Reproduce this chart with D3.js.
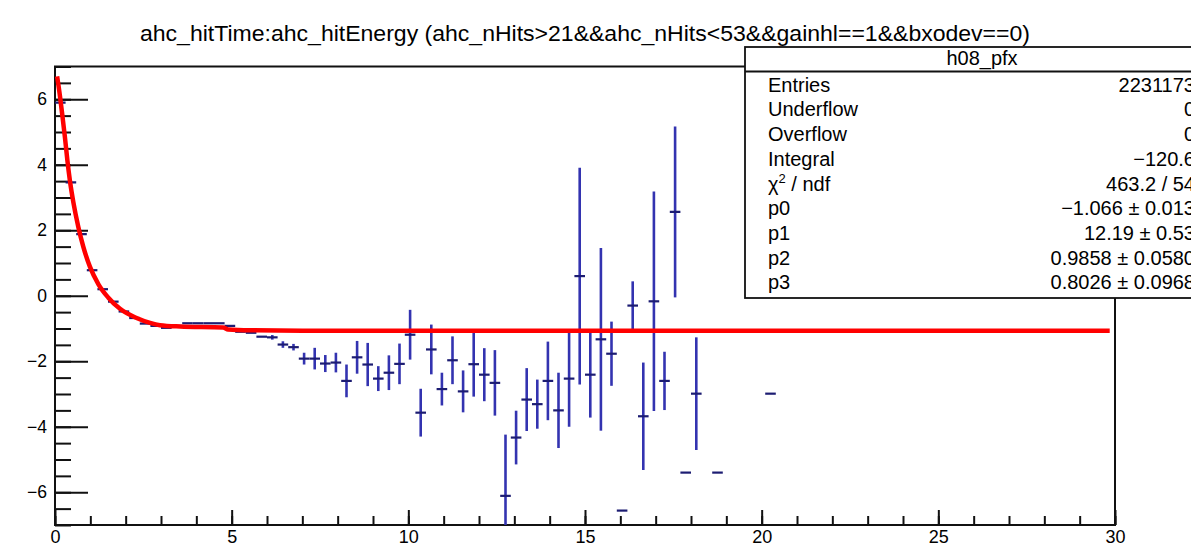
<!DOCTYPE html>
<html><head><meta charset="utf-8">
<script src="https://cdn.jsdelivr.net/npm/d3@7"></script>
<style>
body{margin:0;background:#fff;overflow:hidden;}
svg{display:block;}
text{font-family:"Liberation Sans",Arial,Helvetica,sans-serif;fill:#000;}
</style>
</head><body>
<svg id="chart" width="1191" height="546"></svg>
<script>
// ---------------- data ----------------
const chartTitle = "ahc_hitTime:ahc_hitEnergy (ahc_nHits>21&&ahc_nHits<53&&gainhl==1&&bxodev==0)";
const binWidth = 0.3;
const binCenters = [0.15,0.45,0.75,1.05,1.35,1.65,1.95,2.25,2.55,2.85,3.15,3.45,3.75,4.05,4.35,4.65,4.95,
  5.25,5.55,5.85,6.15,6.45,6.75,7.05,7.35,7.65,7.95,8.25,8.55,8.85,9.15,9.45,9.75,
  10.05,10.35,10.65,10.95,11.25,11.55,11.85,12.15,12.45,12.75,13.05,13.35,13.65,13.95,14.25,14.55,
  14.85,15.15,15.45,15.75,16.05,16.35,16.65,16.95,17.25,17.55,17.85,18.15,18.75,20.25];
const binMeans = [5.9,3.46,1.88,0.78,0.20,-0.18,-0.48,-0.68,-0.85,-0.92,-0.98,-0.92,-0.84,-0.84,-0.84,-0.84,-0.92,
  -1.10,-1.13,-1.25,-1.27,-1.49,-1.57,-1.92,-1.92,-2.07,-2.04,-2.60,-1.88,-2.10,-2.53,-2.35,-2.08,
  -1.19,-3.57,-1.64,-2.85,-1.97,-2.92,-2.09,-2.41,-2.66,-6.11,-4.33,-3.17,-3.31,-2.60,-3.50,-2.53,
  0.60,-2.41,-1.33,-1.77,-6.56,-0.30,-3.68,-0.17,-2.60,2.56,-5.40,-2.99,-5.40,-2.99];
const binErrors = [0.03,0.03,0.02,0.02,0.02,0.02,0.02,0.02,0.02,0.02,0.02,0.02,0.03,0.03,0.03,0.03,0.03,
  0.04,0.05,0.06,0.07,0.10,0.10,0.18,0.33,0.26,0.30,0.50,0.50,0.66,0.38,0.53,0.62,
  0.76,0.73,0.76,0.50,0.73,0.64,0.99,0.81,1.00,1.87,0.82,0.96,0.75,1.20,1.15,1.47,
  3.31,1.31,2.79,0.98,0,0.74,1.64,3.35,0.89,2.61,0,1.72,0,0];

// fit curve
const fitX = [0.06,0.14,0.22,0.28,0.35,0.42,0.52,0.66,0.80,0.99,1.23,1.51,1.84,2.31,2.69,2.97,3.54,4.76,4.90,5.52,7.0,15,29.85];
const fitY = [6.70,6.10,5.40,4.85,4.14,3.53,2.85,2.10,1.50,0.88,0.35,-0.06,-0.40,-0.68,-0.83,-0.90,-0.94,-0.97,-1.03,-1.055,-1.066,-1.066,-1.066];

const xMajorTicks = [0,5,10,15,20,25,30];
const xMinorTicks = d3.range(0,31,1);
const yMajorTicks = [-6,-4,-2,0,2,4,6];
const yMinorTicks = d3.range(-7,7.01,0.5);

const statsTitle = "h08_pfx";
const statLabels = ["Entries","Underflow","Overflow","Integral","CHI2","p0","p1","p2","p3"];
const statValues = ["2231173","0","0","\u2212120.6","463.2 / 54","\u22121.066 \u00b1 0.013","12.19 \u00b1 0.53","0.9858 \u00b1 0.0580","0.8026 \u00b1 0.0968"];

// ---------------- drawing ----------------
const svg = d3.select("#chart");
const L = 55, R = 1115, T = 66.5, B = 525;
const x = d3.scaleLinear().domain([0,30]).range([L,R]);
const y = d3.scaleLinear().domain([-7,7]).range([B,T]);
const minus = s => String(s).replace("-", "\u2212");

svg.append("rect").attr("width",1191).attr("height",546).attr("fill","#fff");

// title
svg.append("text").attr("x",585).attr("y",41).attr("text-anchor","middle")
  .attr("font-size",22).attr("textLength",890).attr("lengthAdjust","spacingAndGlyphs")
  .text(chartTitle);

// clip
svg.append("clipPath").attr("id","plotclip").append("rect")
  .attr("x",L).attr("y",T).attr("width",R-L).attr("height",B-T);

// axes
const gx = svg.append("g").attr("transform",`translate(0,${B})`);
gx.call(d3.axisBottom(x).tickValues(xMinorTicks).tickSizeInner(-9).tickSizeOuter(0).tickFormat(""));
const gx2 = svg.append("g").attr("transform",`translate(0,${B})`);
gx2.call(d3.axisBottom(x).tickValues(xMajorTicks).tickSizeInner(-15).tickSizeOuter(0).tickPadding(5).tickFormat(d3.format("d")));
const gy = svg.append("g").attr("transform",`translate(${L},0)`);
gy.call(d3.axisLeft(y).tickValues(yMinorTicks).tickSizeInner(-16).tickSizeOuter(0).tickFormat(""));
const gy2 = svg.append("g").attr("transform",`translate(${L},0)`);
gy2.call(d3.axisLeft(y).tickValues(yMajorTicks).tickSizeInner(-33).tickSizeOuter(0).tickPadding(8).tickFormat(d => minus(d)));
[gx,gx2,gy,gy2].forEach(g => {
  g.selectAll(".domain").remove();
  g.selectAll(".tick line").attr("stroke","#111").attr("stroke-width",2);
  g.selectAll(".tick text").attr("font-size",18).attr("fill","#000")
    .style("font-family","'Liberation Sans',Arial,sans-serif");
});
gy2.selectAll(".tick text").attr("font-size",17.5);

// frame
svg.append("rect").attr("x",L).attr("y",T).attr("width",R-L).attr("height",B-T)
  .attr("fill","none").attr("stroke","#111").attr("stroke-width",2);

// data points
const data = binCenters.map((c,i)=>({c, m:binMeans[i], e:binErrors[i]}));
const gd = svg.append("g").attr("clip-path","url(#plotclip)");
gd.selectAll("line.err").data(data.filter(d=>d.e>0.06)).join("line").attr("class","err")
  .attr("x1",d=>x(d.c)).attr("x2",d=>x(d.c))
  .attr("y1",d=>y(d.m+d.e)).attr("y2",d=>y(d.m-d.e))
  .attr("stroke","#3333b0").attr("stroke-width",2.6);
gd.selectAll("line.bin").data(data).join("line").attr("class","bin")
  .attr("x1",d=>x(d.c-binWidth/2)).attr("x2",d=>x(d.c+binWidth/2))
  .attr("y1",d=>y(d.m)).attr("y2",d=>y(d.m))
  .attr("stroke","#1c1c72").attr("stroke-width",2.2);

// fit curve
const fitPts = fitX.map((v,i)=>[v,fitY[i]]);
svg.append("path").attr("clip-path","url(#plotclip)")
  .datum(fitPts)
  .attr("d", d3.line().x(d=>x(d[0])).y(d=>y(d[1])).curve(d3.curveMonotoneX))
  .attr("fill","none").attr("stroke","#ff0000").attr("stroke-width",4.5)
  .attr("stroke-linejoin","round");

// stats box
const bx = 745, by = 47, bw = 500, bh = 251, hdr = 24.5;
const gs = svg.append("g");
gs.append("rect").attr("x",bx).attr("y",by).attr("width",bw).attr("height",bh)
  .attr("fill","#fff").attr("stroke","#111").attr("stroke-width",1.8);
gs.append("line").attr("x1",bx).attr("x2",bx+bw).attr("y1",by+hdr).attr("y2",by+hdr)
  .attr("stroke","#111").attr("stroke-width",1.8);
gs.append("text").attr("x",982).attr("y",65).attr("text-anchor","middle").attr("font-size",20).text(statsTitle);
const rowY = i => 91.7 + i*24.7;
statLabels.forEach((lab,i)=>{
  const t = gs.append("text").attr("x",768).attr("y",rowY(i)).attr("font-size",20);
  if (lab === "CHI2") {
    t.append("tspan").text("\u03c7");
    t.append("tspan").attr("font-size",13).attr("dy",-8).text("2");
    t.append("tspan").attr("dy",8).text(" / ndf");
  } else t.text(lab);
});
statValues.forEach((v,i)=>{
  gs.append("text").attr("x",1195).attr("y",rowY(i)).attr("text-anchor","end")
    .attr("font-size",20).attr("xml:space","preserve").text(v);
});
</script>
</body></html>
